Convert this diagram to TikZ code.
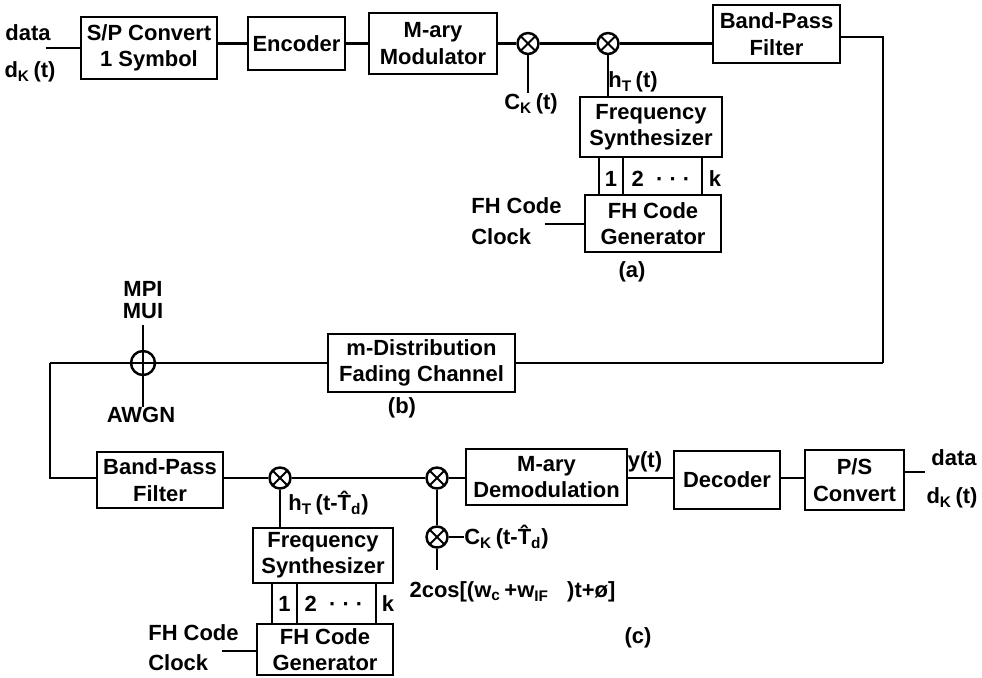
\documentclass[tikz,border=0pt]{standalone}
\usepackage{fontspec}
\setmainfont{Liberation Sans}
\usepackage{tikz}
\usetikzlibrary{shapes.geometric, arrows}
\tikzstyle{block} = [rectangle, draw=black, line width=1.4pt, inner sep=1pt, align=center, text centered]
\tikzstyle{mixer} = [circle, draw=black, line width=1.4pt, minimum size=0.42cm, inner sep=0pt, path picture={\draw[line width=1.1pt] (path picture bounding box.north west) -- (path picture bounding box.south east) (path picture bounding box.north east) -- (path picture bounding box.south west);}]
\tikzstyle{adder} = [circle, draw=black, line width=1.4pt, minimum size=0.48cm, inner sep=0pt, path picture={\draw[line width=1.2pt] (path picture bounding box.north) -- (path picture bounding box.south) (path picture bounding box.east) -- (path picture bounding box.west);}]
\tikzstyle{wire} = [line width=1.4pt]
\tikzstyle{lbl} = [inner sep=0pt]
\newcommand{\busdots}{2\ \ ·\ ·\ ·}

\begin{document}
\begin{tikzpicture}[x=0.02cm, y=-0.02cm, every node/.style={font=\fontsize{12.5}{15}\selectfont\bfseries}]
\useasboundingbox (0,0) rectangle (982,677);

% Transmitter (a)
\node (sp) [block, minimum width=2.72cm, minimum height=1.24cm] at (149,48) {S/P Convert\\1 Symbol};
\node (enc) [block, minimum width=1.94cm, minimum height=1.06cm] at (296.5,43.5) {Encoder};
\node (mod) [block, minimum width=2.56cm, minimum height=1.22cm] at (433,43.5) {M-ary\\Modulator};
\node (mixa) [mixer] at (528,43.5) {};
\node (mixb) [mixer] at (608,43.5) {};
\node (bpfa) [block, minimum width=2.54cm, minimum height=1.16cm] at (776.5,34) {Band-Pass\\Filter};
\node (fsa) [block, minimum width=2.84cm, minimum height=1.20cm] at (651,127) {Frequency\\Synthesizer};
\node (gena) [block, minimum width=2.72cm, minimum height=1.14cm] at (653,223.5) {FH Code\\Generator};

\node (datat) [lbl] at (28,33) {data};
\node (dkt) [lbl] at (30,72) {d\textsubscript{K}\,(t)};
\node (cka) [lbl] at (531,104) {C\textsubscript{K}\,(t)};
\node (hta) [lbl] at (633,82) {h\textsubscript{T}\,(t)};
\node (onea) [lbl] at (611,179) {1};
\node (twoa) [lbl] at (661,179) {\busdots};
\node (ka) [lbl] at (715,179) {k};
\node (fha) [lbl, anchor=west] at (471,206) {FH Code};
\node (clka) [lbl, anchor=west] at (471,237) {Clock};
\node (capa) [lbl] at (632,272) {(a)};

\coordinate (datain) at (46,48);
\coordinate (clkina) at (545,224);
\coordinate (ne) at (883,37);
\coordinate (se) at (883,363);

% Lines (a)
\draw [wire] (datain) -- (sp);
\draw [wire] (sp.east |- enc) -- (enc);
\draw [wire] (enc) -- (mod);
\draw [wire] (mod) -- (mixa) -- (mixb) -- (mixb -| bpfa.west);
\draw [wire] (mixa) -- (mixa |- cka.north);
\draw [wire] (mixb) -- (mixb |- fsa.north);
\foreach \x in {599,623,702}
  \draw [wire] (\x,0 |- fsa.south) -- (\x,0 |- gena.north);
\draw [wire] (clkina) -- (clkina -| gena.west);
\draw [wire] (bpfa.east |- ne) -- (ne) -- (se);

% Channel (b)
\node (mdist) [block, minimum width=3.74cm, minimum height=1.16cm] at (421.5,363) {m-Distribution\\Fading Channel};
\node (add) [adder] at (143,363) {};
\node (mpi) [lbl] at (143,289) {MPI};
\node (mui) [lbl] at (143,311) {MUI};
\node (awgn) [lbl] at (141,415) {AWGN};
\node (capb) [lbl] at (402,408) {(b)};
\coordinate (nw) at (50,363);

\draw [wire] (se) -- (mdist.east |- se);
\draw [wire] (mdist) -- (add) -- (nw);
\draw [wire] (mui.south) ++(0,6) -- (add);
\draw [wire] (add) -- (add |- awgn.north);

% Receiver (c)
\node (bpfc) [block, minimum width=2.52cm, minimum height=1.12cm] at (160,480) {Band-Pass\\Filter};
\node (mixc) [mixer] at (280,478) {};
\node (mixd) [mixer] at (437,478) {};
\node (mixe) [mixer] at (437,537) {};
\node (demod) [block, minimum width=3.22cm, minimum height=1.12cm] at (546.5,477) {M-ary\\Demodulation};
\node (dec) [block, minimum width=2.12cm, minimum height=1.16cm] at (727,480) {Decoder};
\node (ps) [block, minimum width=1.98cm, minimum height=1.20cm] at (854.5,480) {P/S\\Convert};
\node (fsc) [block, minimum width=2.80cm, minimum height=1.10cm] at (323,555.5) {Frequency\\Synthesizer};
\node (genc) [block, minimum width=2.72cm, minimum height=1.02cm] at (325,649.5) {FH Code\\Generator};

\node (htc) [lbl, anchor=west] at (288,503) {h\textsubscript{T}\,(t-\^{T}\textsubscript{d})};
\node (ckc) [lbl, anchor=west] at (464,537) {C\textsubscript{K}\,(t-\^{T}\textsubscript{d})};
\node (cosc) [lbl] at (512.5,592) {2cos[(w\textsubscript{c}\,+w\textsubscript{IF}\ \ \ )t+ø]};
\node (yt) [lbl] at (645,462) {y(t)};
\node (datao) [lbl] at (954,458) {data};
\node (dko) [lbl] at (952,498) {d\textsubscript{K}\,(t)};
\node (onec) [lbl] at (284.5,604) {1};
\node (twoc) [lbl] at (334,604) {\busdots};
\node (kc) [lbl] at (388,604) {k};
\node (fhc) [lbl, anchor=west] at (148,633) {FH Code};
\node (clkc) [lbl, anchor=west] at (148,663) {Clock};
\node (capc) [lbl] at (638,638) {(c)};

\coordinate (sw) at (50,478);
\coordinate (clkinc) at (222,651);
\coordinate (cosin) at (437,570);
\coordinate (dataout) at (925,472);

% Lines (c)
\draw [wire] (nw) -- (sw) -- (sw -| bpfc.west);
\draw [wire] (bpfc.east |- mixc) -- (mixc) -- (mixd) -- (mixd -| demod.west);
\draw [wire] (mixc) -- (mixc |- fsc.north);
\draw [wire] (mixd) -- (mixe) -- (cosin);
\draw [wire] (mixe) -- (ckc.west);
\draw [wire] (demod.east |- mixd) -- (dec.west |- mixd);
\draw [wire] (dec.east |- mixd) -- (ps.west |- mixd);
\draw [wire] (ps.east |- dataout) -- (dataout);
\foreach \x in {272,297,376}
  \draw [wire] (\x,0 |- fsc.south) -- (\x,0 |- genc.north);
\draw [wire] (clkinc) -- (clkinc -| genc.west);

\end{tikzpicture}
\end{document}
